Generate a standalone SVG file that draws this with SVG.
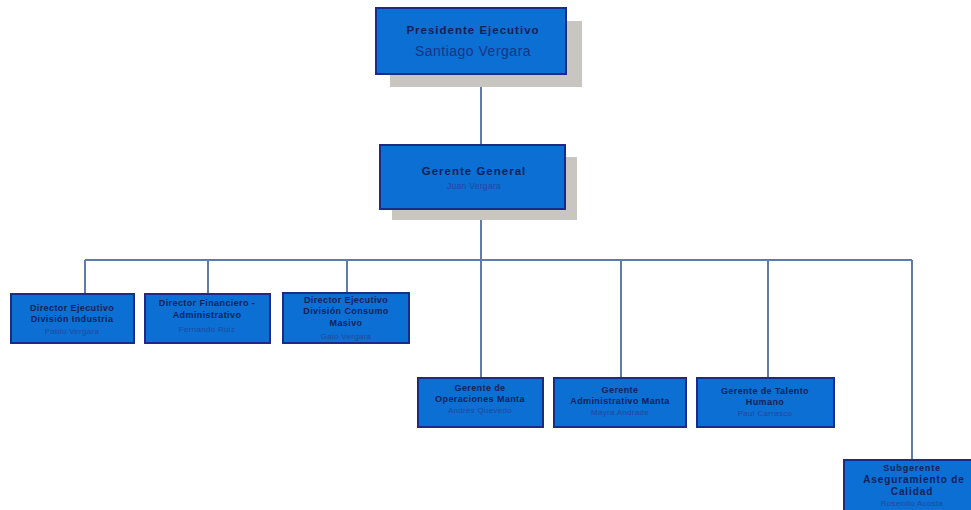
<svg xmlns="http://www.w3.org/2000/svg" width="971" height="510" viewBox="0 0 971 510">
<style>
.box{fill:#0b6fd4;stroke:#1b2c86;stroke-width:2}
.shadow{fill:#c9c6c2}
.t{font-family:"Liberation Sans",Arial,sans-serif;font-weight:bold;fill:#13215a;text-anchor:middle;font-size:9px;letter-spacing:0.4px}
.n{font-family:"Liberation Sans",Arial,sans-serif;fill:#23489c;text-anchor:middle;font-size:8px;letter-spacing:0.3px}
.line{stroke:#5f7ba6;stroke-width:2;fill:none}
</style>
<rect width="971" height="510" fill="#ffffff"/>
<g id="connectors">
<line class="line" x1="481" y1="87" x2="481" y2="145"/>
<line class="line" x1="481" y1="220" x2="481" y2="260" stroke-width="3"/>
<line class="line" x1="85" y1="260" x2="912" y2="260"/>
<line class="line" x1="85" y1="260" x2="85" y2="294"/>
<line class="line" x1="208" y1="260" x2="208" y2="294"/>
<line class="line" x1="347" y1="260" x2="347" y2="293"/>
<line class="line" x1="481" y1="260" x2="481" y2="378"/>
<line class="line" x1="621" y1="260" x2="621" y2="378"/>
<line class="line" x1="768" y1="260" x2="768" y2="378"/>
<line class="line" x1="912" y1="260" x2="912" y2="460"/>
</g>
<g id="presidente">
<rect class="shadow" x="390" y="21" width="192" height="66"/>
<rect class="box" x="376" y="8" width="190" height="66"/>
<text class="t" x="473" y="34" style="font-size:11.5px;letter-spacing:1px">Presidente Ejecutivo</text>
<text class="n" x="473" y="56" style="font-size:14px;fill:#1a3385;letter-spacing:0.5px">Santiago Vergara</text>
</g>
<g id="gerente-general">
<rect class="shadow" x="392" y="157" width="185" height="63"/>
<rect class="box" x="380" y="145" width="185" height="64"/>
<text class="t" x="474" y="175" style="font-size:11.5px;letter-spacing:1px">Gerente General</text>
<text class="n" x="474" y="189" style="font-size:8.5px">Juan Vergara</text>
</g>
<g id="dir-industria">
<rect class="box" x="11" y="294" width="123" height="49"/>
<text class="t" x="72" y="311">Director Ejecutivo</text>
<text class="t" x="72" y="322">División Industria</text>
<text class="n" x="72" y="334">Pablo Vergara</text>
</g>
<g id="dir-financiero">
<rect class="box" x="145" y="294" width="125" height="49"/>
<text class="t" x="207" y="306">Director Financiero -</text>
<text class="t" x="207" y="318">Administrativo</text>
<text class="n" x="207" y="332">Fernando Ruiz</text>
</g>
<g id="dir-consumo">
<rect class="box" x="283" y="293" width="126" height="50"/>
<text class="t" x="346" y="303">Director Ejecutivo</text>
<text class="t" x="346" y="314">División Consumo</text>
<text class="t" x="346" y="326">Masivo</text>
<text class="n" x="346" y="339">Galo Vergara</text>
</g>
<g id="ger-operaciones">
<rect class="box" x="418" y="378" width="125" height="49"/>
<text class="t" x="480" y="391">Gerente de</text>
<text class="t" x="480" y="402">Operaciones Manta</text>
<text class="n" x="480" y="413">Andrés Quevedo</text>
</g>
<g id="ger-administrativo">
<rect class="box" x="554" y="378" width="132" height="49"/>
<text class="t" x="620" y="393">Gerente</text>
<text class="t" x="620" y="404">Administrativo Manta</text>
<text class="n" x="620" y="415">Mayra Andrade</text>
</g>
<g id="ger-talento">
<rect class="box" x="697" y="378" width="137" height="49"/>
<text class="t" x="765" y="394">Gerente de Talento</text>
<text class="t" x="765" y="405">Humano</text>
<text class="n" x="765" y="416">Paul Carrasco</text>
</g>
<g id="subgerente-calidad">
<rect class="box" x="844" y="460" width="140" height="52"/>
<text class="t" x="912" y="471" style="letter-spacing:0.8px">Subgerente</text>
<text class="t" x="914" y="483" style="font-size:10px;letter-spacing:0.9px">Aseguramiento de</text>
<text class="t" x="912" y="495" style="font-size:10px;letter-spacing:0.9px">Calidad</text>
<text class="n" x="912" y="506">Rosendo Acosta</text>
</g>
</svg>
